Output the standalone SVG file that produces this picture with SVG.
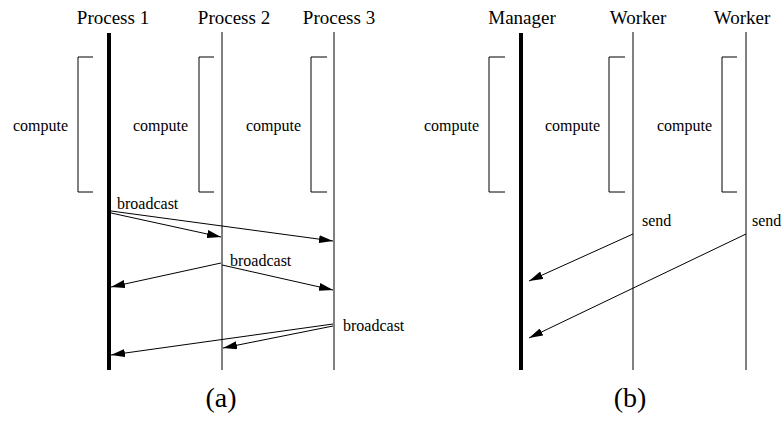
<svg xmlns="http://www.w3.org/2000/svg" width="784" height="439" viewBox="0 0 784 439">
<defs>
<style>
text{font-family:"Liberation Serif","Times New Roman",serif;fill:#000}
.hd{font-size:19px;text-anchor:middle}
.lb{font-size:16px}
.cap{font-size:28px;text-anchor:middle}
.life{stroke:#000;stroke-width:1;fill:none}
.thick{stroke:#000;stroke-width:4;fill:none}
.br{stroke:#000;stroke-width:1;fill:none}
.msg{stroke:#000;stroke-width:1;fill:none;marker-end:url(#ah)}
</style>
<marker id="ah" markerUnits="userSpaceOnUse" viewBox="0 0 14 8" refX="14" refY="4" markerWidth="14" markerHeight="8" orient="auto">
<path d="M0,0 L14,4 L0,8 z" fill="#000"/>
</marker>
</defs>
<rect width="784" height="439" fill="#fff"/>

<g id="p1">
<text class="hd" x="113" y="24">Process 1</text>
<line class="thick" x1="109" y1="33" x2="109" y2="370"/>
<path class="br" d="M93,57 H78 V192 H93"/>
<text class="lb" x="13" y="131">compute</text>
</g>
<g id="p2">
<text class="hd" x="234" y="24">Process 2</text>
<line class="life" x1="222" y1="32" x2="222" y2="370"/>
<path class="br" d="M214,57 H199 V192 H214"/>
<text class="lb" x="133" y="131">compute</text>
</g>
<g id="p3">
<text class="hd" x="339" y="24">Process 3</text>
<line class="life" x1="334" y1="32" x2="334" y2="370"/>
<path class="br" d="M327,57 H311 V192 H327"/>
<text class="lb" x="246" y="131">compute</text>
</g>

<g id="mgr">
<text class="hd" x="522" y="24">Manager</text>
<line class="thick" x1="521" y1="33" x2="521" y2="370"/>
<path class="br" d="M505,57 H489 V192 H505"/>
<text class="lb" x="424" y="131">compute</text>
</g>
<g id="w1">
<text class="hd" x="638" y="24">Worker</text>
<line class="life" x1="633" y1="32" x2="633" y2="370"/>
<path class="br" d="M625,57 H609 V192 H625"/>
<text class="lb" x="545" y="131">compute</text>
</g>
<g id="w2">
<text class="hd" x="742" y="24">Worker</text>
<line class="life" x1="746" y1="32" x2="746" y2="370"/>
<path class="br" d="M737,57 H722 V192 H737"/>
<text class="lb" x="657" y="131">compute</text>
</g>

<g id="connectors">
<line class="msg" x1="111" y1="211" x2="333" y2="241"/>
<line class="msg" x1="111" y1="213" x2="221" y2="237"/>
<line class="msg" x1="221" y1="263" x2="111" y2="287"/>
<line class="msg" x1="222" y1="265" x2="333" y2="290"/>
<line class="msg" x1="333" y1="324" x2="111" y2="355"/>
<line class="msg" x1="333" y1="326" x2="223" y2="348"/>
<line class="msg" x1="633" y1="234" x2="529" y2="281"/>
<line class="msg" x1="746" y1="234" x2="529" y2="338"/>
</g>

<g id="labels">
<text class="lb" x="117" y="209">broadcast</text>
<text class="lb" x="230" y="266">broadcast</text>
<text class="lb" x="343" y="331">broadcast</text>
<text class="lb" x="642" y="226">send</text>
<text class="lb" x="752" y="226">send</text>
<text class="cap" x="221" y="407">(a)</text>
<text class="cap" x="630" y="407">(b)</text>
</g>
</svg>
